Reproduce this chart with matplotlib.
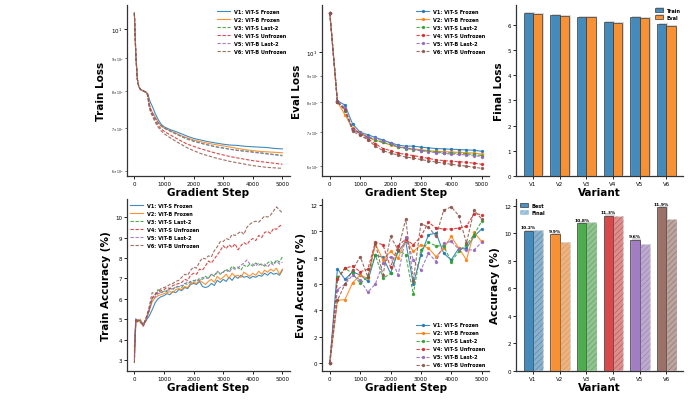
import numpy as np
import matplotlib
matplotlib.use('Agg')
import matplotlib.pyplot as plt
import matplotlib.patheffects as pe
from matplotlib.patches import Patch

plt.rcParams['font.family'] = 'DejaVu Sans'
plt.rcParams['hatch.linewidth'] = 0.4

variants = ['V1', 'V2', 'V3', 'V4', 'V5', 'V6']
names = ['V1: ViT-S Frozen', 'V2: ViT-B Frozen', 'V3: ViT-S Last-2',
         'V4: ViT-S Unfrozen', 'V5: ViT-B Last-2', 'V6: ViT-B Unfrozen']
colors = ['tab:blue', 'tab:orange', 'tab:green', 'tab:red', 'tab:purple', 'tab:brown']
styles = ['-', '-', '--', '--', '--', '--']

# train loss (log scale)
loss_steps = [0, 50, 100, 150, 200, 250, 300, 350, 400, 450, 500, 550, 600, 700, 800, 900,
              1000, 1200, 1400, 1600, 1800, 2000, 2250, 2500, 2750, 3000, 3250, 3500, 3750,
              4000, 4250, 4500, 4750, 5000]
train_loss = [
    [10.6, 9.1, 8.35, 8.12, 8.05, 8.02, 8.0, 7.98, 7.96, 7.92, 7.78, 7.66, 7.58, 7.38, 7.22, 7.1,
     7.03, 6.96, 6.91, 6.85, 6.79, 6.74, 6.7, 6.66, 6.63, 6.6, 6.58, 6.57, 6.55, 6.54, 6.53, 6.52, 6.5, 6.49],
    [10.6, 9.1, 8.35, 8.12, 8.05, 8.02, 8.0, 7.98, 7.96, 7.9, 7.65, 7.5, 7.42, 7.28, 7.15, 7.06,
     7.0, 6.93, 6.87, 6.8, 6.75, 6.7, 6.66, 6.62, 6.59, 6.56, 6.53, 6.5, 6.47, 6.45, 6.43, 6.42, 6.41, 6.4],
    [10.6, 9.1, 8.35, 8.12, 8.05, 8.02, 8.0, 7.98, 7.96, 7.9, 7.62, 7.48, 7.4, 7.26, 7.13, 7.05,
     7.0, 6.92, 6.85, 6.78, 6.72, 6.67, 6.62, 6.58, 6.54, 6.51, 6.48, 6.46, 6.44, 6.42, 6.4, 6.38, 6.36, 6.34],
    [10.6, 9.1, 8.35, 8.12, 8.05, 8.02, 8.0, 7.98, 7.96, 7.88, 7.58, 7.44, 7.36, 7.2, 7.07, 6.98,
     6.92, 6.83, 6.75, 6.67, 6.6, 6.55, 6.49, 6.44, 6.39, 6.35, 6.31, 6.28, 6.25, 6.22, 6.2, 6.18, 6.16, 6.14],
    [10.6, 9.1, 8.35, 8.12, 8.05, 8.02, 8.0, 7.98, 7.96, 7.9, 7.63, 7.49, 7.41, 7.27, 7.14, 7.06,
     7.01, 6.93, 6.86, 6.79, 6.73, 6.68, 6.63, 6.58, 6.54, 6.51, 6.48, 6.45, 6.43, 6.41, 6.39, 6.37, 6.35, 6.33],
    [10.6, 9.1, 8.35, 8.12, 8.05, 8.02, 8.0, 7.98, 7.96, 7.86, 7.55, 7.4, 7.32, 7.15, 7.02, 6.93,
     6.86, 6.76, 6.67, 6.59, 6.51, 6.45, 6.38, 6.33, 6.28, 6.24, 6.2, 6.17, 6.14, 6.11, 6.09, 6.07, 6.06, 6.05],
]

# eval loss, every 250 steps
eval_steps = list(range(0, 5001, 250))
eval_loss = [
    [11.9, 8.04, 7.89, 7.25, 6.99, 6.91, 6.83, 6.75, 6.67, 6.6, 6.57, 6.57, 6.54, 6.52, 6.5, 6.49, 6.48, 6.47, 6.46, 6.45, 6.42],
    [11.9, 8.0, 7.55, 7.12, 6.97, 6.85, 6.74, 6.68, 6.6, 6.55, 6.51, 6.49, 6.46, 6.44, 6.42, 6.41, 6.4, 6.39, 6.38, 6.37, 6.34],
    [11.9, 8.02, 7.7, 7.1, 6.95, 6.83, 6.75, 6.68, 6.62, 6.54, 6.5, 6.47, 6.44, 6.42, 6.4, 6.38, 6.37, 6.36, 6.35, 6.33, 6.3],
    [11.9, 8.0, 7.75, 7.1, 6.95, 6.78, 6.64, 6.5, 6.44, 6.37, 6.33, 6.3, 6.26, 6.22, 6.18, 6.16, 6.14, 6.13, 6.11, 6.09, 6.06],
    [11.9, 8.02, 7.8, 7.05, 6.96, 6.84, 6.8, 6.72, 6.65, 6.56, 6.52, 6.48, 6.44, 6.41, 6.38, 6.36, 6.34, 6.33, 6.32, 6.3, 6.27],
    [11.9, 8.0, 7.72, 7.02, 6.89, 6.76, 6.57, 6.44, 6.37, 6.31, 6.26, 6.23, 6.19, 6.15, 6.12, 6.09, 6.06, 6.03, 6.01, 5.98, 5.95],
]

final_train = [6.45, 6.38, 6.30, 6.10, 6.30, 6.02]
final_eval = [6.42, 6.34, 6.30, 6.06, 6.27, 5.95]

# train accuracy (%)
acc_steps = [0, 50] + list(range(100, 5001, 100))
train_acc = [
    [3.65, 5.0, 4.9, 4.95, 4.7, 4.95, 5.15, 5.45, 5.8, 6.0,
     6.1, 6.15, 6.25, 6.2, 6.35, 6.3, 6.45, 6.4, 6.55, 6.5,
     6.7, 6.75, 6.7, 6.85, 6.6, 6.55, 6.6, 6.75, 6.65, 6.9,
     6.8, 6.95, 6.85, 7.05, 6.9, 7.1, 7.0, 7.15, 7.05, 7.1,
     7.0, 7.1, 7.05, 7.15, 7.1, 7.25, 7.15, 7.3, 7.2, 7.25,
     7.15, 7.4],
    [2.9, 4.9, 4.85, 5.0, 4.7, 5.0, 5.4, 5.85, 6.05, 6.15,
     6.2, 6.25, 6.3, 6.35, 6.3, 6.45, 6.5, 6.45, 6.6, 6.55,
     6.75, 6.8, 6.75, 6.9, 6.8, 6.7, 6.85, 6.95, 6.8, 7.1,
     6.95, 7.05, 7.2, 7.0, 7.25, 7.1, 7.15, 7.05, 7.3, 7.2,
     7.1, 7.25, 7.15, 7.35, 7.2, 7.4, 7.3, 7.45, 7.35, 7.5,
     7.2, 7.45],
    [3.4, 5.05, 4.95, 4.9, 4.75, 5.05, 5.45, 6.0, 6.2, 6.45,
     6.3, 6.4, 6.35, 6.5, 6.45, 6.6, 6.6, 6.55, 6.75, 6.7,
     6.85, 6.9, 6.85, 7.0, 6.95, 7.1, 7.0, 7.2, 7.1, 7.3,
     7.2, 7.3, 7.45, 7.35, 7.6, 7.5, 7.55, 7.4, 7.65, 7.55,
     7.7, 7.6, 7.75, 7.65, 7.7, 7.6, 7.75, 7.85, 7.7, 7.9,
     7.8, 8.05],
    [3.2, 4.95, 4.9, 4.85, 4.65, 4.95, 5.5, 6.05, 6.2, 6.3,
     6.4, 6.45, 6.55, 6.5, 6.65, 6.7, 6.75, 6.8, 6.95, 6.9,
     7.15, 7.25, 7.2, 7.45, 7.4, 7.6, 7.85, 7.75, 7.95, 8.15,
     8.35, 8.6, 8.45, 8.65, 8.5, 8.7, 8.4, 8.6, 8.75, 8.65,
     8.85, 8.95, 8.85, 9.1, 9.0, 9.25, 9.3, 9.2, 9.45, 9.4,
     9.55, 9.65],
    [3.0, 5.0, 4.95, 4.9, 4.7, 5.0, 5.4, 5.95, 6.1, 6.25,
     6.3, 6.35, 6.4, 6.45, 6.5, 6.55, 6.6, 6.65, 6.7, 6.85,
     6.8, 6.85, 6.95, 6.9, 7.05, 7.0, 7.0, 7.2, 7.15, 7.35,
     7.25, 7.3, 7.4, 7.3, 7.5, 7.45, 7.5, 7.65, 7.75, 7.9,
     7.7, 7.7, 7.6, 7.75, 7.65, 7.7, 7.55, 7.75, 7.65, 7.85,
     7.7, 7.8],
    [2.85, 4.9, 5.0, 4.9, 4.7, 5.1, 5.6, 6.3, 6.25, 6.35,
     6.5, 6.55, 6.6, 6.7, 6.75, 6.85, 6.9, 7.05, 7.2, 7.15,
     7.4, 7.55, 7.5, 7.8, 8.0, 7.95, 8.1, 8.05, 8.35, 8.55,
     8.8, 8.8, 8.95, 8.9, 9.15, 9.1, 9.2, 9.3, 9.15, 9.5,
     9.65, 9.75, 9.8, 9.75, 9.9, 10.05, 10.0, 10.1, 10.3, 10.5,
     10.35, 10.2],
]

# eval accuracy (%), every 250 steps
eval_acc = [
    [0, 7.17, 6.36, 6.94, 6.69, 6.23, 8.2, 8.04, 6.82, 8.48, 9.24, 6.0, 8.22, 9.75, 9.88, 8.35, 7.84, 8.73, 8.73, 9.62, 10.19],
    [0, 4.77, 4.82, 6.1, 6.69, 6.43, 9.06, 7.84, 8.48, 7.97, 9.37, 8.48, 8.99, 8.73, 8.09, 8.73, 9.62, 8.73, 7.84, 9.93, 9.24],
    [0, 6.51, 7.2, 6.82, 6.05, 6.56, 8.22, 6.43, 6.82, 8.6, 8.22, 5.23, 8.6, 9.17, 8.91, 8.91, 7.71, 8.48, 8.99, 9.75, 10.77],
    [0, 6.36, 7.2, 7.38, 6.94, 7.12, 9.17, 8.99, 7.28, 8.91, 9.42, 8.99, 9.62, 10.7, 10.26, 10.19, 10.19, 10.26, 10.39, 11.36, 11.28],
    [0, 5.59, 6.0, 6.69, 6.31, 5.39, 6.0, 7.58, 8.09, 6.69, 9.57, 7.84, 7.07, 8.35, 7.71, 9.11, 9.24, 8.65, 8.6, 8.6, 9.17],
    [0, 4.77, 6.0, 7.07, 8.09, 6.56, 9.11, 6.69, 9.62, 8.6, 10.95, 6.26, 10.6, 10.34, 9.62, 11.62, 11.87, 11.21, 9.11, 11.62, 10.95],
]

best_acc = [10.2, 9.95, 10.75, 11.3, 9.55, 11.9]
final_acc = [10.2, 9.3, 10.75, 11.2, 9.15, 11.0]

fig = plt.figure(figsize=(6.9, 4.1), dpi=100)
W = 0.242
ax1 = fig.add_axes([0.184, 0.568, 0.236, 0.417])
ax2 = fig.add_axes([0.467, 0.568, W, 0.417])
ax3 = fig.add_axes([0.748, 0.568, W, 0.417])
ax4 = fig.add_axes([0.184, 0.093, 0.236, 0.419])
ax5 = fig.add_axes([0.467, 0.093, W, 0.419])
ax6 = fig.add_axes([0.748, 0.093, W, 0.419])

lab_font = dict(fontsize=7.5, fontweight='bold')
leg_prop = {'size': 3.6, 'weight': 'bold'}
leg_kw = dict(frameon=False, prop=leg_prop, handlelength=2.6, handleheight=0.6,
              labelspacing=0.6, borderaxespad=0.3)


def style(ax):
    for s in ['top', 'right']:
        ax.spines[s].set_visible(False)
    for s in ['left', 'bottom']:
        ax.spines[s].set_linewidth(0.9)
        ax.spines[s].set_color('#333333')
    ax.tick_params(which='major', labelsize=4, length=2, width=0.6, pad=1.5)
    ax.tick_params(which='minor', labelsize=2.2, length=1.2, width=0.4, pad=1.5)


for i in range(6):
    dash = (None if styles[i] == '-' else (3, 1.5))
    kw = dict(color=colors[i], lw=0.8, alpha=0.85, label=names[i])
    l1, = ax1.plot(loss_steps, train_loss[i], **kw)
    l2, = ax2.plot(eval_steps, eval_loss[i], marker='o', ms=1.4, **kw)
    l4, = ax4.plot(acc_steps, train_acc[i], **kw)
    l5, = ax5.plot(eval_steps, eval_acc[i], marker='o', ms=1.4, **kw)
    if dash:
        for l in (l1, l2, l4, l5):
            l.set_dashes(dash)

for ax in [ax1, ax2]:
    ax.set_yscale('log')
for ax in [ax1, ax2, ax4, ax5]:
    ax.set_xticks([0, 1000, 2000, 3000, 4000, 5000])
    ax.set_xlabel('Gradient Step', **lab_font, labelpad=1)
    style(ax)

ax1.set_ylabel('Train Loss', **lab_font, labelpad=3)
ax2.set_ylabel('Eval Loss', **lab_font, labelpad=3)
ax4.set_ylabel('Train Accuracy (%)', **lab_font, labelpad=3)
ax5.set_ylabel('Eval Accuracy (%)', **lab_font, labelpad=3)
ax5.set_yticks([0, 2, 4, 6, 8, 10, 12])

ax1.legend(loc='upper right', **leg_kw)
ax2.legend(loc='upper right', **leg_kw)
ax4.legend(loc='upper left', **leg_kw)
ax5.legend(loc='lower right', **leg_kw)

# final loss bars
x = np.arange(len(variants))
bw = 0.35
shadow = [pe.SimplePatchShadow(offset=(1.2, 0.8), shadow_rgbFace='gray', alpha=0.3), pe.Normal()]
ax3.bar(x - bw / 2, final_train, bw, color='tab:blue', alpha=0.8, edgecolor='#333333', lw=0.6,
        label='Train', path_effects=shadow)
ax3.bar(x + bw / 2, final_eval, bw, color='tab:orange', alpha=0.8, edgecolor='#333333', lw=0.6,
        label='Eval', path_effects=shadow)
ax3.set_xticks(x)
ax3.set_xticklabels(variants)
ax3.set_xlabel('Variant', **lab_font, labelpad=1)
ax3.set_ylabel('Final Loss', **lab_font, labelpad=3)
ax3.legend(loc='upper right', frameon=False, prop=leg_prop, handlelength=1.6, handleheight=0.8,
           labelspacing=0.4, borderaxespad=0.1)
style(ax3)

# accuracy bars
for i in range(6):
    ax6.bar(x[i] - bw / 2, best_acc[i], bw, color=colors[i], alpha=0.8, edgecolor='#333333', lw=0.6,
            path_effects=shadow)
    ax6.bar(x[i] + bw / 2, final_acc[i], bw, color=colors[i], alpha=0.4, edgecolor=colors[i], lw=0.4,
            hatch='//////', path_effects=shadow)
    ax6.text(x[i] - bw / 2, best_acc[i] + 0.1, f'{best_acc[i]:.1f}%', ha='center', va='bottom',
             fontsize=3.2, fontweight='bold')
ax6.set_xticks(x)
ax6.set_xticklabels(variants)
ax6.set_yticks([0, 2, 4, 6, 8, 10, 12])
ax6.set_xlabel('Variant', **lab_font, labelpad=1)
ax6.set_ylabel('Accuracy (%)', **lab_font, labelpad=3)
handles = [Patch(facecolor='tab:blue', alpha=0.8, edgecolor='#333333', lw=0.6, label='Best'),
           Patch(facecolor='tab:blue', alpha=0.4, edgecolor='tab:blue', lw=0.4, hatch='//////', label='Final')]
ax6.legend(handles=handles, loc='upper left', frameon=False, prop=leg_prop, handlelength=1.6,
           handleheight=0.8, labelspacing=0.4, borderaxespad=0.3)
style(ax6)

fig.savefig('out.png', dpi=100)
